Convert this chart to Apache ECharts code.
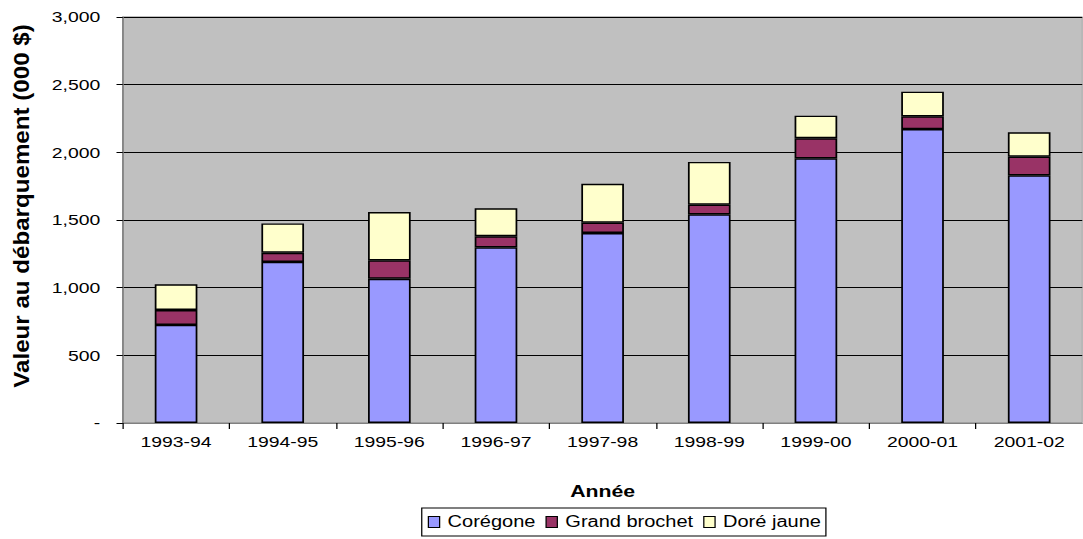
<!DOCTYPE html>
<html>
<head>
<meta charset="utf-8">
<script src="https://cdn.jsdelivr.net/npm/echarts@6/dist/echarts.min.js"></script>
<style>
  html, body { margin: 0; padding: 0; background: #ffffff; overflow: hidden; }
  /* The chart is laid out on a narrower canvas and widened horizontally,
     giving the broad, stretched lettering of the printed figure. */
  #chart { width: 866px; height: 539px; transform: scaleX(1.25); transform-origin: 0 0; }
</style>
</head>
<body>
<div id="chart"></div>
<script>
// Landed value by species and fiscal year (thousands of dollars)
const years = ['1993-94', '1994-95', '1995-96', '1996-97', '1997-98', '1998-99', '1999-00', '2000-01', '2001-02'];
const coregone = [725, 1190, 1066, 1298, 1404, 1542, 1956, 2172, 1830];
const grandBrochet = [110, 68, 136, 82, 76, 71, 148, 94, 138];
const doreJaune = [190, 217, 357, 207, 288, 316, 167, 182, 180];
const yTicks = [0, 500, 1000, 1500, 2000, 2500, 3000];
const yTitle = 'Valeur au débarquement (000 $)';

const font = 'Liberation Sans, Arial, sans-serif';
const fontSize = 15.5;

function fmt(v) {
  if (v === 0) return '-';
  return v.toLocaleString('en-US');
}

function barSeries(name, data, color) {
  return {
    name: name,
    type: 'bar',
    stack: 'total',
    data: data,
    barWidth: '40%',
    itemStyle: { color: color, borderColor: '#000000', borderWidth: 1.4 },
    emphasis: { disabled: true }
  };
}

const chart = echarts.init(document.getElementById('chart'), null, { renderer: 'svg' });
chart.setOption({
  animation: false,
  backgroundColor: '#ffffff',
  grid: {
    left: 98.2, right: -8, top: 17, bottom: 116,
    show: true, backgroundColor: '#C0C0C0', borderColor: '#808080', borderWidth: 1
  },
  // Vertical value-axis title, drawn tall and narrow
  graphic: [{
    type: 'text',
    x: 17.5,
    y: 206,
    rotation: Math.PI / 2,
    scaleX: 1.42,
    silent: true,
    style: {
      text: yTitle,
      fontFamily: font,
      fontSize: 17,
      fontWeight: 'bold',
      fill: '#000000',
      align: 'center',
      verticalAlign: 'middle'
    }
  }],
  legend: {
    bottom: 3,
    left: 337.4,
    itemWidth: 9,
    itemHeight: 11,
    itemGap: 8,
    padding: [6, 4, 6, 4.8],
    borderColor: '#000000',
    borderWidth: 1,
    icon: 'rect',
    itemStyle: { borderColor: '#000000', borderWidth: 1 },
    textStyle: { fontFamily: font, fontSize: 16, color: '#000000', padding: [0, 0, 0, 1.4] },
    data: ['Corégone', 'Grand brochet', 'Doré jaune']
  },
  xAxis: {
    type: 'category',
    data: years,
    name: 'Année',
    nameLocation: 'middle',
    nameGap: 60,
    nameTextStyle: { fontFamily: font, fontSize: 17, fontWeight: 'bold', color: '#000000' },
    axisLine: { lineStyle: { color: '#808080', width: 1 } },
    axisTick: { show: true, length: 6, lineStyle: { color: '#000000' } },
    axisLabel: { fontFamily: font, fontSize: fontSize, color: '#000000', margin: 11 },
    splitLine: { show: false }
  },
  yAxis: {
    type: 'value',
    min: 0,
    max: 3000,
    interval: 500,
    axisLine: { show: true, lineStyle: { color: '#808080', width: 1 } },
    axisTick: { show: true, length: 5, lineStyle: { color: '#000000' } },
    axisLabel: {
      fontFamily: font, fontSize: fontSize, color: '#000000', margin: 18,
      formatter: function (v) { return yTicks.indexOf(v) >= 0 ? fmt(v) : ''; }
    },
    splitLine: { show: true, lineStyle: { color: '#000000', width: 1 } }
  },
  series: [
    barSeries('Corégone', coregone, '#9999FF'),
    barSeries('Grand brochet', grandBrochet, '#993366'),
    barSeries('Doré jaune', doreJaune, '#FFFFCC')
  ]
});
</script>
</body>
</html>
